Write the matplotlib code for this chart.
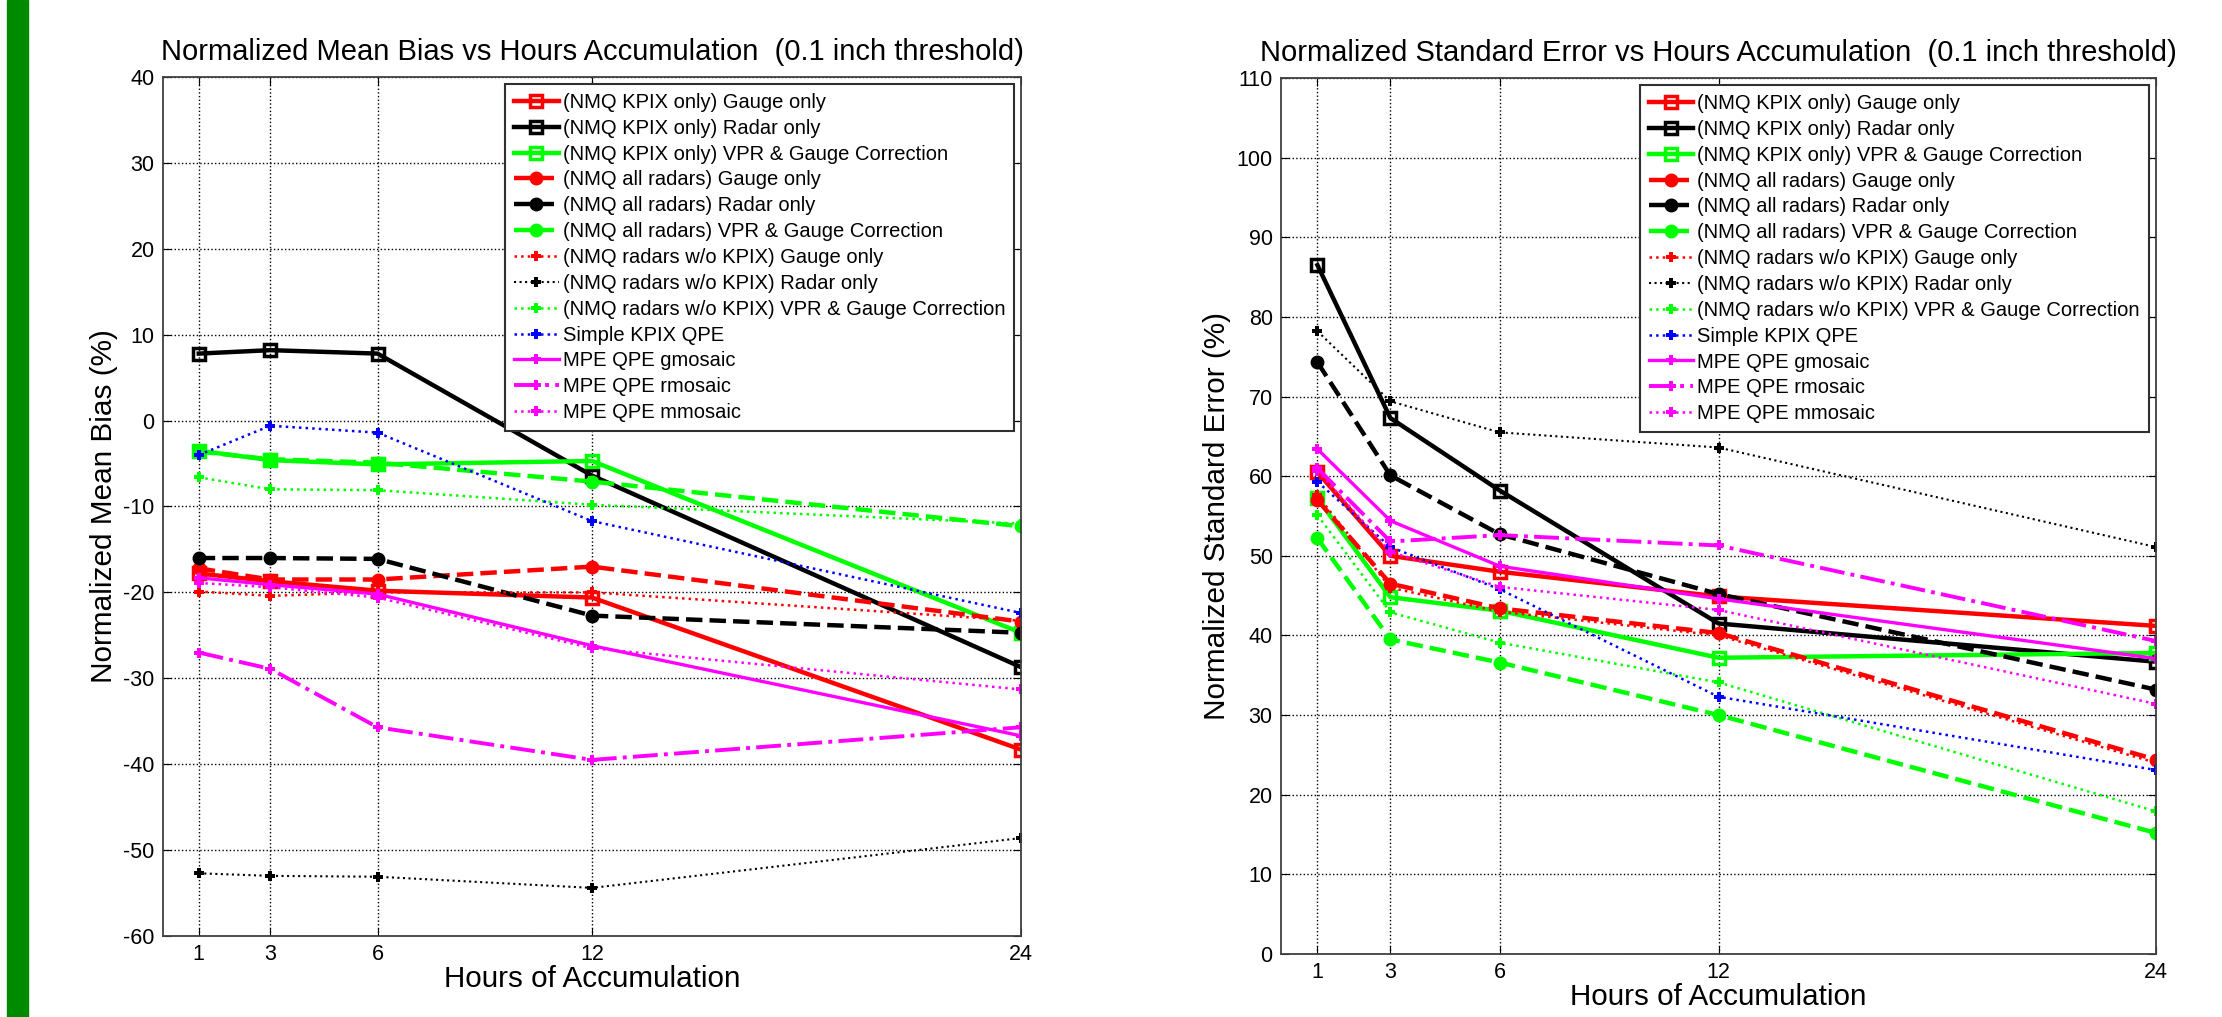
import matplotlib
matplotlib.use("Agg")
from matplotlib import pyplot as plt
from matplotlib.patches import Rectangle

plt.rcParams['font.family'] = ['Liberation Sans', 'DejaVu Sans']
plt.rcParams['axes.unicode_minus'] = False

# Hours of accumulation
hours = [1, 3, 6, 12, 24]

labels = [
	"(NMQ KPIX only) Gauge only",
	"(NMQ KPIX only) Radar only",
	"(NMQ KPIX only) VPR & Gauge Correction",
	"(NMQ all radars) Gauge only",
	"(NMQ all radars) Radar only",
	"(NMQ all radars) VPR & Gauge Correction",
	"(NMQ radars w/o KPIX) Gauge only",
	"(NMQ radars w/o KPIX) Radar only",
	"(NMQ radars w/o KPIX) VPR & Gauge Correction",
	"Simple KPIX QPE",
	"MPE QPE gmosaic",
	"MPE QPE rmosaic",
	"MPE QPE mmosaic",
]

# Normalized mean bias (%)
bias_kpix_gauge = [-17.8, -18.7, -19.8, -20.6, -38.3]
bias_kpix_radar = [7.8, 8.2, 7.8, -6.4, -28.7]
bias_kpix_vpr = [-3.5, -4.6, -5.1, -4.7, -24.7]
bias_all_gauge = [-17.2, -18.5, -18.5, -17.0, -23.4]
bias_all_radar = [-16.0, -16.0, -16.1, -22.7, -24.7]
bias_all_vpr = [-3.6, -4.5, -4.9, -7.1, -12.3]
bias_wo_gauge = [-19.9, -20.4, -20.0, -20.0, -23.3]
bias_wo_radar = [-52.7, -53.0, -53.1, -54.4, -48.6]
bias_wo_vpr = [-6.6, -8.0, -8.1, -9.8, -12.0]
bias_simple = [-4.0, -0.6, -1.4, -11.7, -22.4]
bias_gmosaic = [-18.3, -19.1, -20.2, -26.2, -36.7]
bias_rmosaic = [-27.0, -28.9, -35.7, -39.5, -35.7]
bias_mmosaic = [-18.9, -19.4, -20.6, -26.5, -31.3]

# Normalized standard error (%)
se_kpix_gauge = [60.5, 50.0, 48.0, 44.9, 41.2]
se_kpix_radar = [86.5, 67.3, 58.2, 41.5, 36.7]
se_kpix_vpr = [57.2, 44.8, 43.1, 37.2, 37.8]
se_all_gauge = [57.0, 46.5, 43.4, 40.3, 24.4]
se_all_radar = [74.3, 60.1, 52.7, 45.2, 33.2]
se_all_vpr = [52.2, 39.5, 36.6, 30.0, 15.2]
se_wo_gauge = [57.6, 46.0, 43.0, 40.0, 24.0]
se_wo_radar = [78.2, 69.4, 65.5, 63.6, 51.1]
se_wo_vpr = [55.1, 42.9, 39.1, 34.1, 17.9]
se_simple = [59.3, 51.1, 45.8, 32.3, 23.1]
se_gmosaic = [63.4, 54.4, 48.7, 44.6, 37.1]
se_rmosaic = [61.0, 51.8, 52.6, 51.3, 39.3]
se_mmosaic = [60.7, 50.5, 46.1, 43.2, 31.4]

bias = [bias_kpix_gauge, bias_kpix_radar, bias_kpix_vpr, bias_all_gauge,
	bias_all_radar, bias_all_vpr, bias_wo_gauge, bias_wo_radar, bias_wo_vpr,
	bias_simple, bias_gmosaic, bias_rmosaic, bias_mmosaic]
stderr = [se_kpix_gauge, se_kpix_radar, se_kpix_vpr, se_all_gauge,
	se_all_radar, se_all_vpr, se_wo_gauge, se_wo_radar, se_wo_vpr,
	se_simple, se_gmosaic, se_rmosaic, se_mmosaic]

# colour, linestyle, linewidth, marker
styles = [
	('#ff0000', '-', 3.2, 's'),
	('#000000', '-', 3.2, 's'),
	('#00ff00', '-', 3.2, 's'),
	('#ff0000', '--', 3.2, 'o'),
	('#000000', '--', 3.2, 'o'),
	('#00ff00', '--', 3.2, 'o'),
	('#ff0000', ':', 1.8, 'P'),
	('#000000', ':', 1.5, 'P'),
	('#00ff00', ':', 1.8, 'P'),
	('#0000ff', ':', 1.8, 'P'),
	('#ff00ff', '-', 2.4, 'P'),
	('#ff00ff', '-.', 2.8, 'P'),
	('#ff00ff', ':', 1.8, 'P'),
]


def drawPanel(ax, series, title, ylabel, ylim, yticks):

	"""
	One panel: every series against hours of accumulation
	"""

	for vals, lab, (c, ls, lw, mk) in zip(series, labels, styles):
		if mk == 's':
			ax.plot(hours, vals, color=c, ls=ls, lw=lw, marker=mk, ms=9,
				mfc='none', mec=c, mew=2.5, label=lab)
		elif mk == 'o':
			ax.plot(hours, vals, color=c, ls=ls, lw=lw, marker=mk, ms=9,
				mfc=c, mec=c, label=lab)
		else:
			ax.plot(hours, vals, color=c, ls=ls, lw=lw, marker=mk, ms=7,
				mfc=c, mec=c, mew=0, label=lab)

	ax.set_xlim(0, 24)
	ax.set_ylim(*ylim)
	ax.set_xticks(hours)
	ax.set_yticks(yticks)
	ax.grid(True, ls=':', color='black', lw=1.0)
	ax.tick_params(direction='in', labelsize=15.5, length=6, top=True, right=True,
		labeltop=False, labelright=False, pad=6)
	for s in ax.spines.values():
		s.set_color('#404040')
		s.set_linewidth(1.3)
	ax.set_title(title, fontsize=21, pad=12)
	ax.set_ylabel(ylabel, fontsize=21.4, labelpad=4)
	ax.set_xlabel("Hours of Accumulation", fontsize=21.3, labelpad=0)

	leg = ax.legend(loc='upper right', bbox_to_anchor=(0.992, 0.992),
		fontsize=14.5, fancybox=False, framealpha=1, borderaxespad=0,
		handlelength=2.2, handletextpad=0.2, labelspacing=0.34,
		borderpad=0.45)
	leg.get_frame().set_edgecolor('#303030')
	leg.get_frame().set_linewidth(1.5)


if __name__ == "__main__":

	fig = plt.figure(figsize=(22.22, 10.17), dpi=100)

	# green strip at the left edge
	fig.patches.append(Rectangle((7 / 2222., 0), 21 / 2222., 1,
		transform=fig.transFigure, color='#008a00', zorder=0))

	ax1 = fig.add_axes([0.07336, 0.07965, 0.38614, 0.84464])
	drawPanel(ax1, bias,
		"Normalized Mean Bias vs Hours Accumulation  (0.1 inch threshold)",
		"Normalized Mean Bias (%)", (-60, 40), range(-60, 41, 10))

	ax2 = fig.add_axes([0.57651, 0.06195, 0.39379, 0.86136])
	drawPanel(ax2, stderr,
		"Normalized Standard Error vs Hours Accumulation  (0.1 inch threshold)",
		"Normalized Standard Error (%)", (0, 110), range(0, 111, 10))

	plt.savefig("out.png", dpi=100)
